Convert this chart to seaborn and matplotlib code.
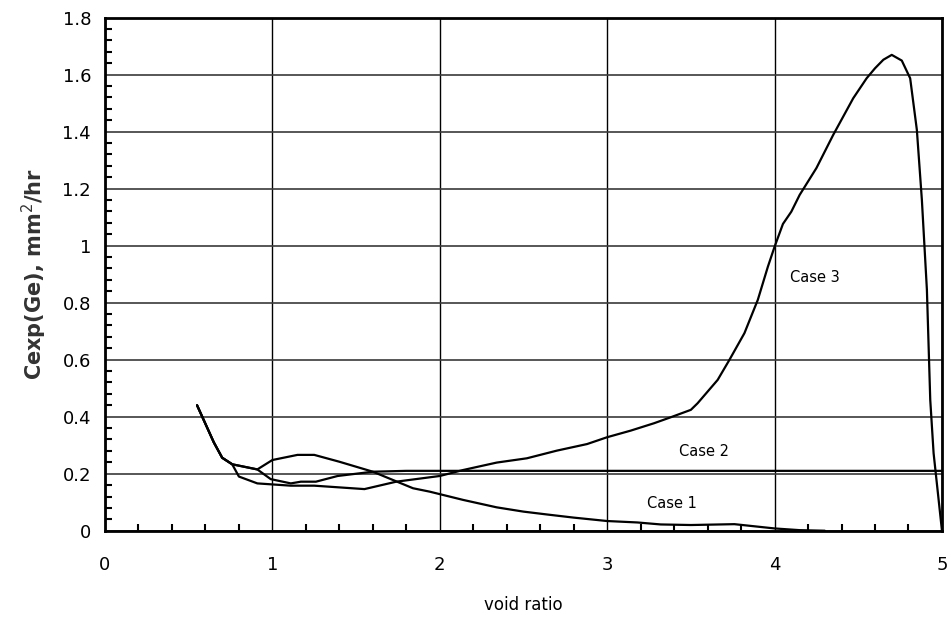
import seaborn as sns
import matplotlib.pyplot as plt
from matplotlib.ticker import MultipleLocator
import pandas as pd

sns.set_theme(style="white")
plt.rcParams['font.family'] = ['DejaVu Sans']

# data
case1_x = [0.55, 0.65, 0.70, 0.76, 0.91, 1.0, 1.15, 1.25, 1.4, 1.6, 1.84, 1.94, 2.14, 2.34,
           2.5, 2.64, 2.8, 3.0, 3.18, 3.32, 3.5, 3.76, 4.0, 4.15, 4.3]
case1_y = [0.44, 0.31, 0.256, 0.233, 0.215, 0.248, 0.266, 0.266, 0.242, 0.207, 0.149, 0.137, 0.108, 0.082,
           0.067, 0.057, 0.046, 0.034, 0.029, 0.022, 0.02, 0.023, 0.008, 0.002, 0.0]

case2_x = [0.55, 0.65, 0.70, 0.76, 0.91, 0.99, 1.11, 1.17, 1.26, 1.39, 1.6, 1.8, 2.5, 3.5, 4.5, 5.0]
case2_y = [0.44, 0.31, 0.256, 0.233, 0.215, 0.181, 0.166, 0.172, 0.172, 0.192, 0.207, 0.21,
           0.21, 0.21, 0.21, 0.21]

case3_x = [0.55, 0.65, 0.70, 0.76, 0.80, 0.91, 1.11, 1.25, 1.55, 1.74, 2.0, 2.14, 2.34, 2.52,
           2.7, 2.88, 3.0, 3.14, 3.28, 3.38, 3.5, 3.54, 3.66, 3.73, 3.82, 3.9, 3.96, 4.0,
           4.05, 4.1, 4.15, 4.25, 4.35, 4.47, 4.55, 4.6, 4.65, 4.7, 4.76, 4.81, 4.85,
           4.88, 4.91, 4.93, 4.95, 5.0]
case3_y = [0.44, 0.31, 0.256, 0.233, 0.19, 0.166, 0.158, 0.158, 0.146, 0.172, 0.192, 0.213, 0.239, 0.254,
           0.281, 0.304, 0.328, 0.351, 0.377, 0.398, 0.424, 0.447, 0.529, 0.599, 0.693, 0.81, 0.926, 0.996,
           1.076, 1.119, 1.178, 1.272, 1.388, 1.517, 1.587, 1.622, 1.652, 1.669, 1.649, 1.587, 1.406,
           1.16, 0.845, 0.459, 0.272, 0.0]

xticks = [0, 1, 2, 3, 4, 5]
yticks = [0, 0.2, 0.4, 0.6, 0.8, 1.0, 1.2, 1.4, 1.6, 1.8]
ytick_labels = ['0', '0.2', '0.4', '0.6', '0.8', '1', '1.2', '1.4', '1.6', '1.8']

labels = ['Case 1', 'Case 2', 'Case 3']
label_x = [3.24, 3.43, 4.09]
label_y = [0.096, 0.277, 0.888]

fig = plt.figure(figsize=(9.51, 6.26), dpi=100)
ax = fig.add_axes([0.1104, 0.1522, 0.8801, 0.8198])

for xs, ys in [(case1_x, case1_y), (case2_x, case2_y), (case3_x, case3_y)]:
    df = pd.DataFrame({'x': xs, 'y': ys})
    sns.lineplot(data=df, x='x', y='y', sort=False, estimator=None, color='black', lw=1.6, ax=ax)

ax.set_xlim(0, 5)
ax.set_ylim(0, 1.8)
ax.set_xticks(xticks)
ax.set_xticklabels([str(t) for t in xticks], size=13)
ax.set_yticks(yticks)
ax.set_yticklabels(ytick_labels, size=13)
ax.xaxis.set_minor_locator(MultipleLocator(0.2))
ax.yaxis.set_minor_locator(MultipleLocator(0.04))
ax.tick_params(which='minor', direction='in', length=5, width=1.5, color='black',
               bottom=True, left=True)
ax.tick_params(which='major', direction='in', length=0, pad=18, colors='black')
ax.tick_params(axis='y', which='major', pad=10)

ax.grid(True, which='major', axis='x', color='black', lw=1)
ax.grid(True, which='major', axis='y', color='#3a3a3a', lw=1.2)
ax.set_axisbelow(True)

for axis in ['top', 'bottom', 'left', 'right']:
    ax.spines[axis].set_linewidth(2)
    ax.spines[axis].set_color('black')

for t, x, y in zip(labels, label_x, label_y):
    ax.text(x, y, t, fontsize=10.5, va='center', ha='left', color='black')

ax.set_xlabel('void ratio', fontsize=12, labelpad=16, color='black')
ax.set_ylabel('Cexp(Ge), mm$^2$/hr', fontsize=15, fontweight='bold', color='#333333', labelpad=10)

plt.savefig('out.png', dpi=100)
